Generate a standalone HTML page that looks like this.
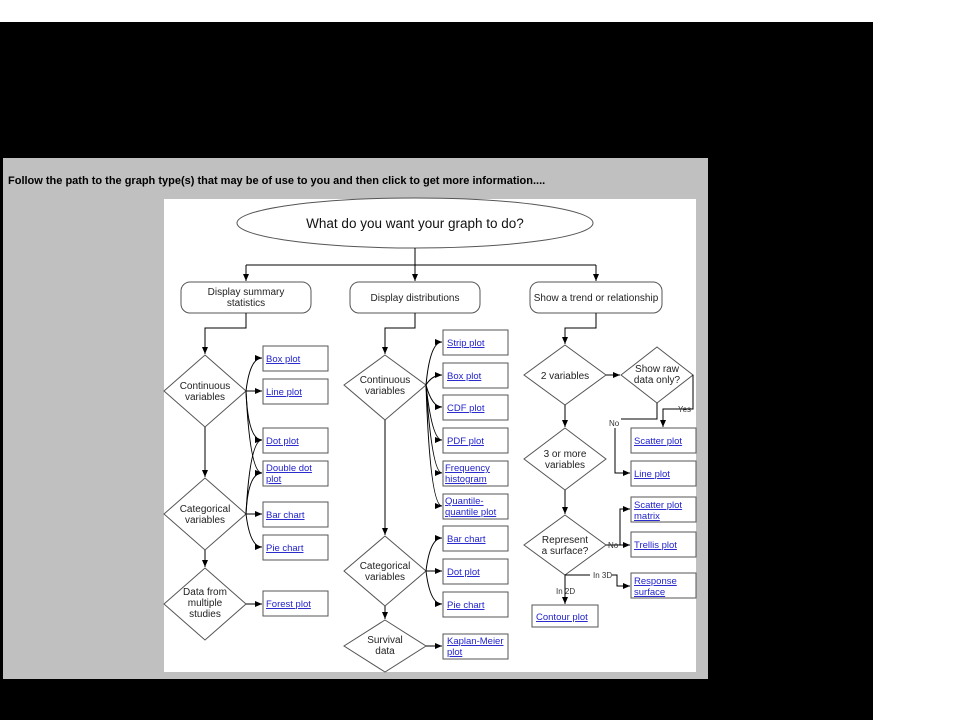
<!DOCTYPE html>
<html><head><style>
html,body{margin:0;padding:0;background:#fff;}
svg{display:block;}
text{font-family:"Liberation Sans",Arial,sans-serif;}
.n{font-size:10px;fill:#222;text-anchor:middle;}
.l{font-size:9.5px;fill:#2222cc;text-decoration:underline;}
.s{font-size:8px;fill:#333;}
</style></head><body>
<svg width="960" height="720" viewBox="0 0 960 720" xmlns="http://www.w3.org/2000/svg">
<defs>
<marker id="a" markerWidth="8" markerHeight="8" refX="7" refY="4" orient="auto" markerUnits="userSpaceOnUse"><path d="M0,1 L7,4 L0,7 z" fill="#000"/></marker>
</defs>
<rect x="0" y="0" width="960" height="720" fill="#fff"/>
<rect x="0" y="22" width="873" height="698" fill="#000"/>
<rect x="3" y="158" width="705" height="521" fill="#c0c0c0"/>
<rect x="164" y="199" width="532" height="473" fill="#fff"/>
<text x="8" y="184" font-size="11" font-weight="bold" fill="#000">Follow the path to the graph type(s) that may be of use to you and then click to get more information....</text>

<g stroke="#555" stroke-width="1" fill="#fff">
<ellipse cx="415" cy="223" rx="178" ry="25"/>
<rect x="181" y="282" width="130" height="31" rx="9"/>
<rect x="350" y="282" width="130" height="31" rx="9"/>
<rect x="530" y="282" width="132" height="31" rx="9"/>
<polygon points="205,355 246,391 205,427 164,391"/>
<polygon points="205,478 246,514 205,550 164,514"/>
<polygon points="205,568 246,604 205,640 164,604"/>
<polygon points="385,355 426,385 385,420 344,385"/>
<polygon points="385,536 426,571 385,606 344,571"/>
<polygon points="385,620 426,646 385,672 344,646"/>
<polygon points="565,345 606,375 565,405 524,375"/>
<polygon points="657,347 693,375 657,403 621,375"/>
<polygon points="565,428 606,459 565,490 524,459"/>
<polygon points="565,515 606,545 565,575 524,545"/>
<rect x="263" y="346" width="65" height="25"/>
<rect x="263" y="379" width="65" height="25"/>
<rect x="263" y="428" width="65" height="25"/>
<rect x="263" y="461" width="65" height="25"/>
<rect x="263" y="502" width="65" height="25"/>
<rect x="263" y="535" width="65" height="25"/>
<rect x="263" y="591" width="65" height="25"/>
<rect x="443" y="330" width="65" height="25"/>
<rect x="443" y="363" width="65" height="25"/>
<rect x="443" y="395" width="65" height="25"/>
<rect x="443" y="428" width="65" height="25"/>
<rect x="443" y="461" width="65" height="25"/>
<rect x="443" y="494" width="65" height="25"/>
<rect x="443" y="526" width="65" height="25"/>
<rect x="443" y="559" width="65" height="25"/>
<rect x="443" y="592" width="65" height="25"/>
<rect x="443" y="634" width="65" height="25"/>
<rect x="631" y="428" width="65" height="25"/>
<rect x="631" y="461" width="65" height="25"/>
<rect x="631" y="497" width="65" height="25"/>
<rect x="631" y="532" width="65" height="25"/>
<rect x="631" y="573" width="65" height="25"/>
<rect x="532" y="605" width="66" height="22"/>
</g>

<g stroke="#000" stroke-width="1" fill="none">
<path d="M415,248 V265 M246,265 H596"/>
<path d="M246,265 V281" marker-end="url(#a)"/>
<path d="M415,265 V281" marker-end="url(#a)"/>
<path d="M596,265 V281" marker-end="url(#a)"/>
<path d="M246,313 V328 H205 V354" marker-end="url(#a)"/>
<path d="M415,313 V328 H385 V354" marker-end="url(#a)"/>
<path d="M596,313 V328 H565 V344" marker-end="url(#a)"/>
<path d="M205,427 V477" marker-end="url(#a)"/>
<path d="M205,550 V567" marker-end="url(#a)"/>
<path d="M246,391 Q250,358 262,358" marker-end="url(#a)"/>
<path d="M246,391 H262" marker-end="url(#a)"/>
<path d="M246,391 Q248,440 262,440" marker-end="url(#a)"/>
<path d="M246,391 Q250,473 262,473" marker-end="url(#a)"/>
<path d="M246,514 Q250,440 262,440" marker-end="url(#a)"/>
<path d="M246,514 Q248,473 262,473" marker-end="url(#a)"/>
<path d="M246,514 H262" marker-end="url(#a)"/>
<path d="M246,514 Q250,547 262,547" marker-end="url(#a)"/>
<path d="M246,604 H262" marker-end="url(#a)"/>
<path d="M385,420 V535" marker-end="url(#a)"/>
<path d="M385,606 V619" marker-end="url(#a)"/>
<path d="M426,385 Q430,342 442,342" marker-end="url(#a)"/>
<path d="M426,385 Q432,375 442,375" marker-end="url(#a)"/>
<path d="M426,385 Q432,407 442,407" marker-end="url(#a)"/>
<path d="M426,385 Q432,440 442,440" marker-end="url(#a)"/>
<path d="M426,385 Q432,473 442,473" marker-end="url(#a)"/>
<path d="M426,385 Q430,506 442,506" marker-end="url(#a)"/>
<path d="M426,571 Q430,538 442,538" marker-end="url(#a)"/>
<path d="M426,571 H442" marker-end="url(#a)"/>
<path d="M426,571 Q430,604 442,604" marker-end="url(#a)"/>
<path d="M426,646 H442" marker-end="url(#a)"/>
<path d="M565,405 V427" marker-end="url(#a)"/>
<path d="M565,490 V514" marker-end="url(#a)"/>
<path d="M606,375 H620" marker-end="url(#a)"/>
<path d="M693,375 V409 H663 V427" marker-end="url(#a)"/>
<path d="M657,403 V419 H621"/>
<path d="M615,428 V473 H630" marker-end="url(#a)"/>
<path d="M606,545 H620 V509 H630" marker-end="url(#a)"/>
<path d="M620,545 H630" marker-end="url(#a)"/>
<path d="M565,575 H590 M612,575 H617 V586 H630" marker-end="url(#a)"/>
<path d="M565,575 V604" marker-end="url(#a)"/>
</g>
<text class="s" x="678" y="412">Yes</text>
<text class="s" x="609" y="426">No</text>
<text class="s" x="608" y="548">No</text>
<text class="s" x="593" y="578">In 3D</text>
<text class="s" x="556" y="594">In 2D</text>

<text x="415" y="228" font-size="13.5" fill="#111" text-anchor="middle">What do you want your graph to do?</text>
<text class="n" x="246" y="295">Display summary</text>
<text class="n" x="246" y="306">statistics</text>
<text class="n" x="415" y="301">Display distributions</text>
<text class="n" x="596" y="301">Show a trend or relationship</text>
<text class="n" x="205" y="389">Continuous</text><text class="n" x="205" y="400">variables</text>
<text class="n" x="205" y="512">Categorical</text><text class="n" x="205" y="523">variables</text>
<text class="n" x="205" y="595">Data from</text><text class="n" x="205" y="606">multiple</text><text class="n" x="205" y="617">studies</text>
<text class="n" x="385" y="383">Continuous</text><text class="n" x="385" y="394">variables</text>
<text class="n" x="385" y="569">Categorical</text><text class="n" x="385" y="580">variables</text>
<text class="n" x="385" y="643">Survival</text><text class="n" x="385" y="654">data</text>
<text class="n" x="565" y="379">2 variables</text>
<text class="n" x="657" y="372">Show raw</text><text class="n" x="657" y="383">data only?</text>
<text class="n" x="565" y="457">3 or more</text><text class="n" x="565" y="468">variables</text>
<text class="n" x="565" y="543">Represent</text><text class="n" x="565" y="554">a surface?</text>

<text class="l" x="266" y="362">Box plot</text>
<text class="l" x="266" y="395">Line plot</text>
<text class="l" x="266" y="444">Dot plot</text>
<text class="l" x="266" y="471">Double dot</text><text class="l" x="266" y="482">plot</text>
<text class="l" x="266" y="518">Bar chart</text>
<text class="l" x="266" y="551">Pie chart</text>
<text class="l" x="266" y="607">Forest plot</text>
<text class="l" x="447" y="346">Strip plot</text>
<text class="l" x="447" y="379">Box plot</text>
<text class="l" x="447" y="411">CDF plot</text>
<text class="l" x="447" y="444">PDF plot</text>
<text class="l" x="445" y="471">Frequency</text><text class="l" x="445" y="482">histogram</text>
<text class="l" x="445" y="504">Quantile-</text><text class="l" x="445" y="515">quantile plot</text>
<text class="l" x="447" y="542">Bar chart</text>
<text class="l" x="447" y="575">Dot plot</text>
<text class="l" x="447" y="608">Pie chart</text>
<text class="l" x="447" y="644">Kaplan-Meier</text><text class="l" x="447" y="655">plot</text>
<text class="l" x="634" y="444">Scatter plot</text>
<text class="l" x="634" y="477">Line plot</text>
<text class="l" x="634" y="508">Scatter plot</text><text class="l" x="634" y="519">matrix</text>
<text class="l" x="634" y="548">Trellis plot</text>
<text class="l" x="634" y="584">Response</text><text class="l" x="634" y="595">surface</text>
<text class="l" x="536" y="620">Contour plot</text>
</svg>
</body></html>
